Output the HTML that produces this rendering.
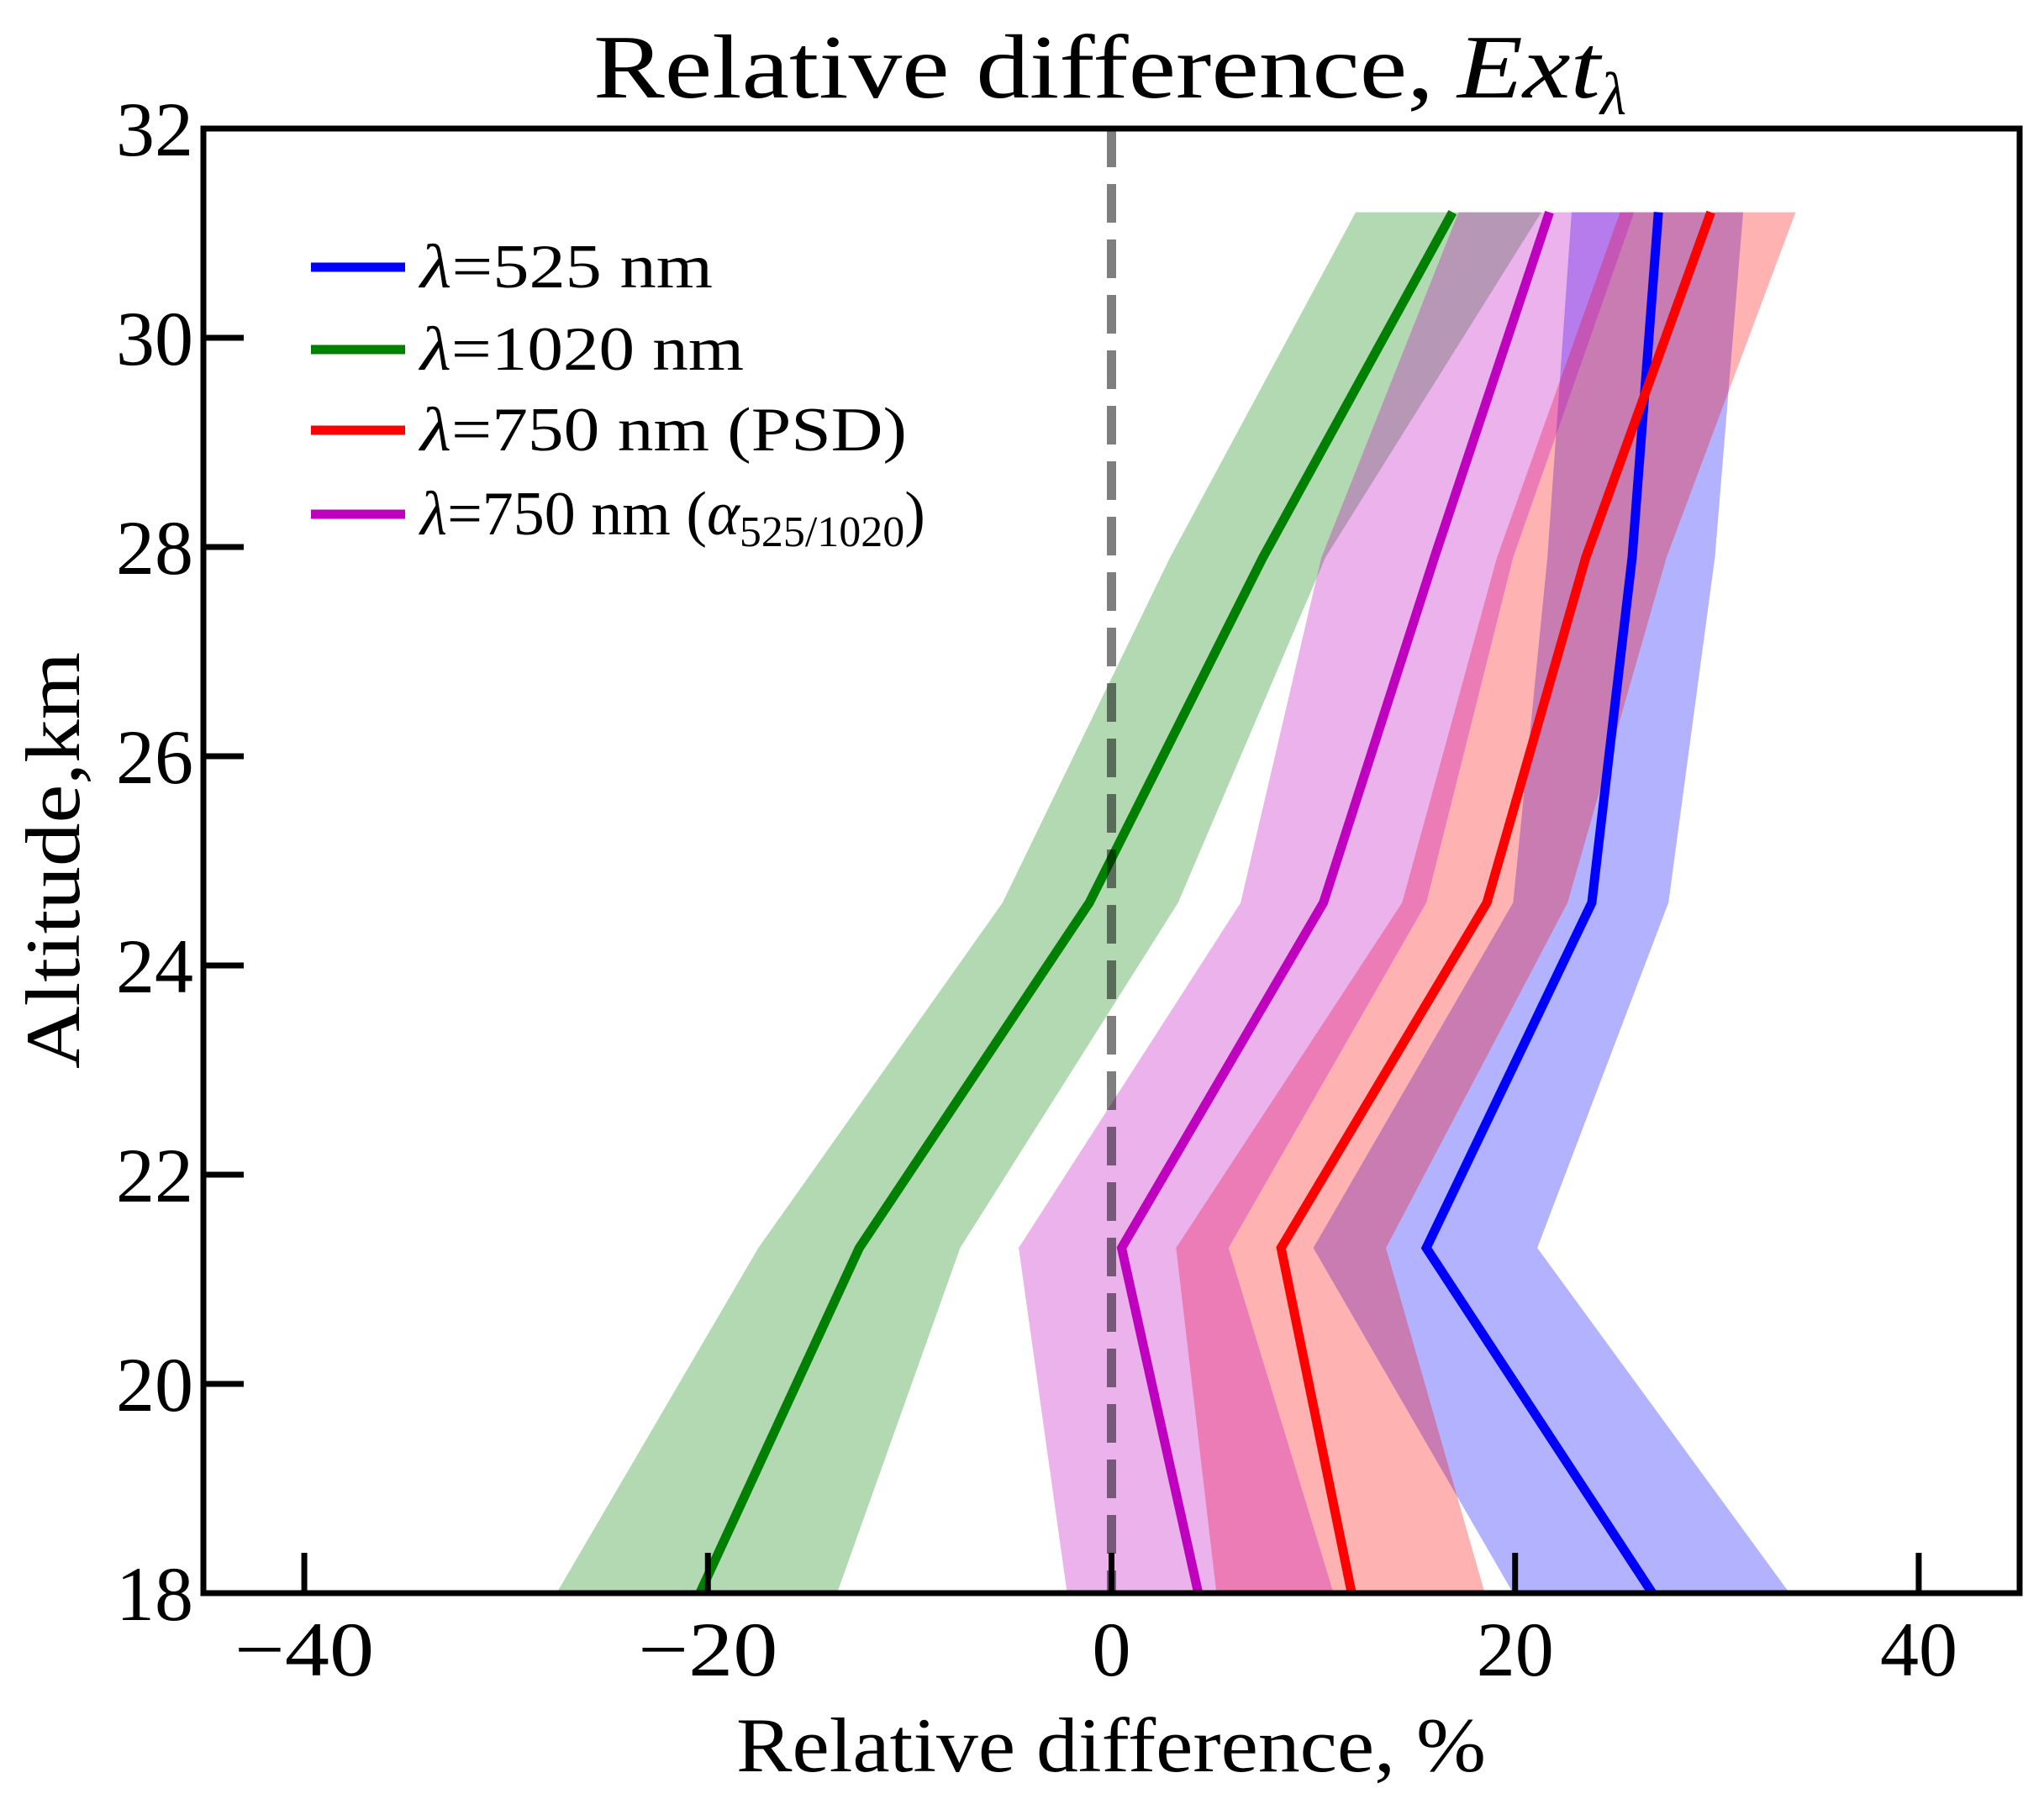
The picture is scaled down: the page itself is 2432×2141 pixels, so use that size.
<!DOCTYPE html>
<html><head><meta charset="utf-8"><style>
html,body{margin:0;padding:0;background:#fff;}
svg{display:block;font-family:"Liberation Serif","DejaVu Serif",serif;}
</style></head><body>
<svg id="chart" width="2432" height="2141" viewBox="0 0 2432 2141" xmlns="http://www.w3.org/2000/svg">
<rect width="2432" height="2141" fill="#fff"/>
<text x="706" y="116" font-size="108"><tspan textLength="1000" lengthAdjust="spacingAndGlyphs">Relative difference,</tspan><tspan dx="28" font-style="italic" textLength="170" lengthAdjust="spacingAndGlyphs">Ext</tspan><tspan font-style="italic" font-size="72" dy="20">λ</tspan></text>
<g id="bands"></g>
<g id="lines"></g>
<line id="zero" x1="0" y1="153" x2="0" y2="1896" stroke="#000" stroke-opacity="0.5" stroke-width="11" stroke-dasharray="46,20"/>
<rect x="242" y="153" width="2161" height="1743" fill="none" stroke="#000" stroke-width="7"/>
<g id="ticks"></g>
<text x="876" y="2108" font-size="92" textLength="892" lengthAdjust="spacingAndGlyphs">Relative difference, %</text>
<text transform="translate(94,1272) rotate(-90)" font-size="92" textLength="496" lengthAdjust="spacingAndGlyphs">Altitude,km</text>
<g font-size="74">
 <g><line x1="370" y1="318" x2="482" y2="318" stroke="#0000ff" stroke-width="11"/><text x="500" y="342" textLength="348" lengthAdjust="spacingAndGlyphs"><tspan font-style="italic">λ</tspan>=525 nm</text></g>
 <g><line x1="370" y1="416" x2="482" y2="416" stroke="#008000" stroke-width="11"/><text x="500" y="440" textLength="385" lengthAdjust="spacingAndGlyphs"><tspan font-style="italic">λ</tspan>=1020 nm</text></g>
 <g><line x1="370" y1="512" x2="482" y2="512" stroke="#ff0000" stroke-width="11"/><text x="500" y="536" textLength="579" lengthAdjust="spacingAndGlyphs"><tspan font-style="italic">λ</tspan>=750 nm (PSD)</text></g>
 <g><line x1="370" y1="612" x2="482" y2="612" stroke="#bf00bf" stroke-width="11"/><text x="500" y="636"><tspan font-style="italic">λ</tspan>=750 nm (<tspan font-style="italic">α</tspan><tspan font-size="52" dy="14">525/1020</tspan><tspan dy="-14">)</tspan></text></g>
</g>
</svg>
<script>
const altitudes = [18, 21.3, 24.6, 27.9, 31.2];
const blueMid = [26.8, 15.6, 23.8, 25.8, 27.1];
const blueLo = [19.9, 10.0, 19.9, 21.6, 22.8];
const blueHi = [33.6, 21.1, 27.6, 29.9, 31.3];
const greenMid = [-20.4, -12.5, -1.1, 7.5, 16.9];
const greenLo = [-27.5, -17.5, -5.4, 2.9, 12.1];
const greenHi = [-13.6, -7.5, 3.3, 10.6, 21.3];
const redMid = [11.9, 8.4, 18.6, 23.5, 29.7];
const redLo = [5.2, 3.2, 14.4, 19.1, 25.2];
const redHi = [18.5, 13.6, 22.6, 27.5, 33.9];
const magMid = [4.3, 0.5, 10.5, 16.0, 21.7];
const magLo = [-2.2, -4.6, 6.4, 10.4, 17.2];
const magHi = [11.0, 5.8, 15.6, 19.9, 25.9];
const xTicks = [-40, -20, 0, 20, 40];
const xTickLabels = ["\u221240", "\u221220", "0", "20", "40"];
const yTicks = [18, 20, 22, 24, 26, 28, 30, 32];
const yTickLabels = ["18", "20", "22", "24", "26", "28", "30", "32"];

const NS = "http://www.w3.org/2000/svg";
const X0 = 242, X1 = 2403, Y0 = 1896, Y1 = 153;
const xMin = -45, xMax = 45, yMin = 18, yMax = 32;
function sx(v){ return X0 + (v - xMin) / (xMax - xMin) * (X1 - X0); }
function sy(v){ return Y0 - (v - yMin) / (yMax - yMin) * (Y0 - Y1); }

const series = [
  {name:'525', mid:blueMid, lo:blueLo, hi:blueHi, color:'#0000ff'},
  {name:'1020', mid:greenMid, lo:greenLo, hi:greenHi, color:'#008000'},
  {name:'750-psd', mid:redMid, lo:redLo, hi:redHi, color:'#ff0000'},
  {name:'750-alpha', mid:magMid, lo:magLo, hi:magHi, color:'#bf00bf'}
];
const bands = document.getElementById('bands');
const lines = document.getElementById('lines');
series.forEach(s => {
  const pts = [];
  s.lo.forEach((v,i) => pts.push(sx(v)+','+sy(altitudes[i])));
  for (let i = s.hi.length-1; i >= 0; i--) pts.push(sx(s.hi[i])+','+sy(altitudes[i]));
  const poly = document.createElementNS(NS, 'polygon');
  poly.setAttribute('points', pts.join(' '));
  poly.setAttribute('fill', s.color);
  poly.setAttribute('fill-opacity', '0.3');
  
  
  bands.appendChild(poly);
});
series.forEach(s => {
  const pl = document.createElementNS(NS, 'polyline');
  pl.setAttribute('points', s.mid.map((v,i) => sx(v)+','+sy(altitudes[i])).join(' '));
  pl.setAttribute('fill', 'none');
  pl.setAttribute('stroke', s.color);
  pl.setAttribute('stroke-width', '11');
  
  
  lines.appendChild(pl);
});
const z = document.getElementById('zero');
z.setAttribute('x1', sx(0)); z.setAttribute('x2', sx(0));

const ticks = document.getElementById('ticks');
xTicks.forEach((v,i) => {
  const l = document.createElementNS(NS, 'line');
  l.setAttribute('x1', sx(v)); l.setAttribute('x2', sx(v));
  l.setAttribute('y1', Y0); l.setAttribute('y2', Y0 - 48);
  l.setAttribute('stroke', '#000'); l.setAttribute('stroke-width', '7');
  
  
  ticks.appendChild(l);
  const t = document.createElementNS(NS, 'text');
  t.setAttribute('x', sx(v)); t.setAttribute('y', 1994);
  t.setAttribute('font-size', '92'); t.setAttribute('text-anchor', 'middle');
  if (v < 0) { t.setAttribute('textLength', '166'); t.setAttribute('lengthAdjust', 'spacingAndGlyphs'); }
  t.textContent = xTickLabels[i];
  
  
  ticks.appendChild(t);
});
yTicks.forEach((v,i) => {
  const l = document.createElementNS(NS, 'line');
  l.setAttribute('x1', X0); l.setAttribute('x2', X0 + 48);
  l.setAttribute('y1', sy(v)); l.setAttribute('y2', sy(v));
  l.setAttribute('stroke', '#000'); l.setAttribute('stroke-width', '7');
  
  
  ticks.appendChild(l);
  const t = document.createElementNS(NS, 'text');
  t.setAttribute('x', 230); t.setAttribute('y', sy(v) + 32);
  t.setAttribute('font-size', '92'); t.setAttribute('text-anchor', 'end');
  t.textContent = yTickLabels[i];
  
  
  ticks.appendChild(t);
});
</script>
</body></html>
